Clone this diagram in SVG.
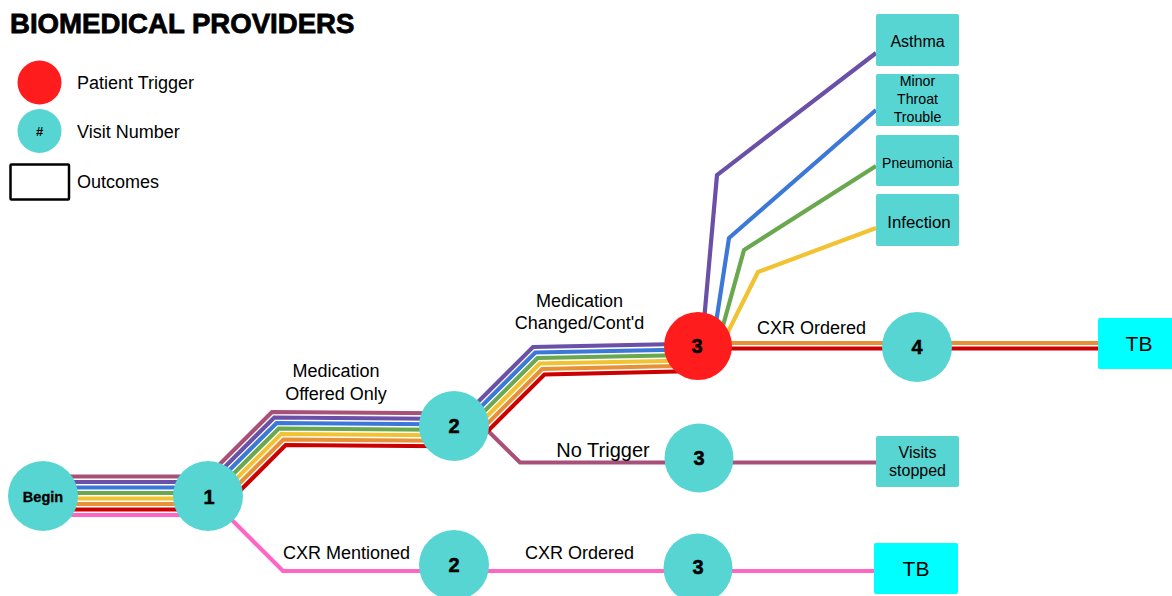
<svg xmlns="http://www.w3.org/2000/svg" width="1172" height="596" viewBox="0 0 1172 596">
<style>
.t{font-family:"Liberation Sans",Arial,sans-serif;fill:#000}
.lbl{font-size:18px}
.num{font-size:20px;font-weight:bold;text-anchor:middle;stroke:#000;stroke-width:0.5}
.node{fill:#56D5D3}
.trig{fill:#FF1C1C}
.box{fill:#56D5D3}
.tb{fill:#00FFFF}
.bt{text-anchor:middle}
.ln{fill:none;stroke-linejoin:miter;stroke-width:4.2}
.mv{stroke:#A8507A}.pu{stroke:#6B50A8}.bl{stroke:#3C78D8}.gr{stroke:#6AA84F}.ye{stroke:#F1C232}.or{stroke:#E69138}.rd{stroke:#CC0000}.pk{stroke:#FF66C4}
</style>
<rect width="1172" height="596" fill="#fff"/>
<g id="legend">
<text class="t" x="10" y="33" font-size="27.6" font-weight="bold" stroke="#000" stroke-width="0.8">BIOMEDICAL PROVIDERS</text>
<circle cx="39.5" cy="82.5" r="22" class="trig"/>
<text class="t lbl" x="77" y="89.3">Patient Trigger</text>
<circle cx="39.5" cy="131" r="22" class="node"/>
<text class="t bt" x="39.5" y="136" font-size="13" font-weight="bold">#</text>
<text class="t lbl" x="77" y="138.3">Visit Number</text>
<rect x="10.5" y="164.5" width="58.5" height="35" rx="1" fill="#fff" stroke="#000" stroke-width="2.5"/>
<text class="t lbl" x="77" y="187.7">Outcomes</text>
</g>
<g id="connectors">
<path class="ln mv" d="M43 476.5 L207.5 476.5 L272 412 L470.5 413.5 L520 462.5 L876 462.5"/>
<path class="ln pu" d="M43 482 L209.8 482 L274.3 417.5 L461 419 L533 347 L702 343.5 L717 175 L876 53"/>
<path class="ln bl" d="M43 487.5 L212 487.5 L276.6 423 L463.3 424.5 L535.3 352.5 L712 349 L729 238 L876 110"/>
<path class="ln gr" d="M43 493 L214.3 493 L278.8 428.5 L465.6 430 L537.6 358 L715 354.5 L744 250 L876 166"/>
<path class="ln ye" d="M43 498.5 L216.6 498.5 L281.1 434 L467.8 435.5 L539.8 363.5 L714 360 L758 272 L876 228"/>
<path class="ln or" d="M43 504 L218.9 504 L283.4 439.5 L470.1 441 L542.1 369 L698 365.5 L712 343 L1098 343"/>
<path class="ln rd" d="M43 509.5 L221.2 509.5 L285.7 445 L472.4 446.5 L544.4 374.5 L698 371 L712 348.5 L1098 348.5"/>
<path class="ln pk" d="M43 515 L227 515 L283 571 L874 571"/>
</g>
<g id="labels">
<text class="t lbl bt" x="336" y="377.3">Medication</text>
<text class="t lbl bt" x="336" y="400">Offered Only</text>
<text class="t lbl bt" x="579.5" y="307.3">Medication</text>
<text class="t lbl bt" x="579.5" y="329.3">Changed/Cont'd</text>
<text class="t lbl" x="757" y="334.3">CXR Ordered</text>
<text class="t bt" x="603" y="456.7" font-size="20">No Trigger</text>
<text class="t lbl" x="283" y="559.3">CXR Mentioned</text>
<text class="t lbl" x="525" y="559.3">CXR Ordered</text>
</g>
<g id="n-begin"><circle cx="43" cy="496" r="35" class="node"/><text class="t bt" x="43" y="501.5" font-size="14.5" font-weight="bold" stroke="#000" stroke-width="0.3">Begin</text></g>
<g id="n-1"><circle cx="208" cy="496" r="35" class="node"/><text class="t num" x="209" y="503.5">1</text></g>
<g id="n-2a"><circle cx="454" cy="426" r="35" class="node"/><text class="t num" x="454" y="433.3">2</text></g>
<g id="n-3a"><circle cx="698" cy="346" r="34" class="trig"/><text class="t num" x="697" y="352.5">3</text></g>
<g id="n-4"><circle cx="917" cy="347" r="35" class="node"/><text class="t num" x="917" y="353.5">4</text></g>
<g id="n-3b"><circle cx="699" cy="458" r="34.5" class="node"/><text class="t num" x="699" y="464.5">3</text></g>
<g id="n-2b"><circle cx="454" cy="565" r="35" class="node"/><text class="t num" x="454" y="571.5">2</text></g>
<g id="n-3c"><circle cx="698" cy="568" r="34.5" class="node"/><text class="t num" x="698" y="574">3</text></g>
<g id="o-asthma"><rect x="876" y="14" width="83" height="52" rx="2" class="box"/><text class="t bt" x="917.5" y="46.7" font-size="16">Asthma</text></g>
<g id="o-throat"><rect x="876" y="74" width="83" height="52" rx="2" class="box"/><text class="t bt" x="917.5" y="86" font-size="14.2">Minor</text><text class="t bt" x="917.5" y="103.7" font-size="14.2">Throat</text><text class="t bt" x="917.5" y="121.7" font-size="14.2">Trouble</text></g>
<g id="o-pneumonia"><rect x="876" y="135" width="83" height="51" rx="2" class="box"/><text class="t bt" x="917.5" y="168.3" font-size="14">Pneumonia</text></g>
<g id="o-infection"><rect x="876" y="194" width="83" height="52" rx="2" class="box"/><text class="t bt" x="919" y="227.7" font-size="16.8">Infection</text></g>
<g id="o-tb1"><rect x="1098" y="318" width="76" height="51" rx="2" class="tb"/><text class="t bt" x="1139" y="350.7" font-size="21">TB</text></g>
<g id="o-stopped"><rect x="876" y="436" width="83" height="51" rx="2" class="box"/><text class="t bt" x="917.5" y="457.7" font-size="16">Visits</text><text class="t bt" x="917.5" y="476" font-size="16">stopped</text></g>
<g id="o-tb2"><rect x="874" y="543" width="84" height="51" rx="2" class="tb"/><text class="t bt" x="916" y="575.7" font-size="21">TB</text></g>
</svg>
